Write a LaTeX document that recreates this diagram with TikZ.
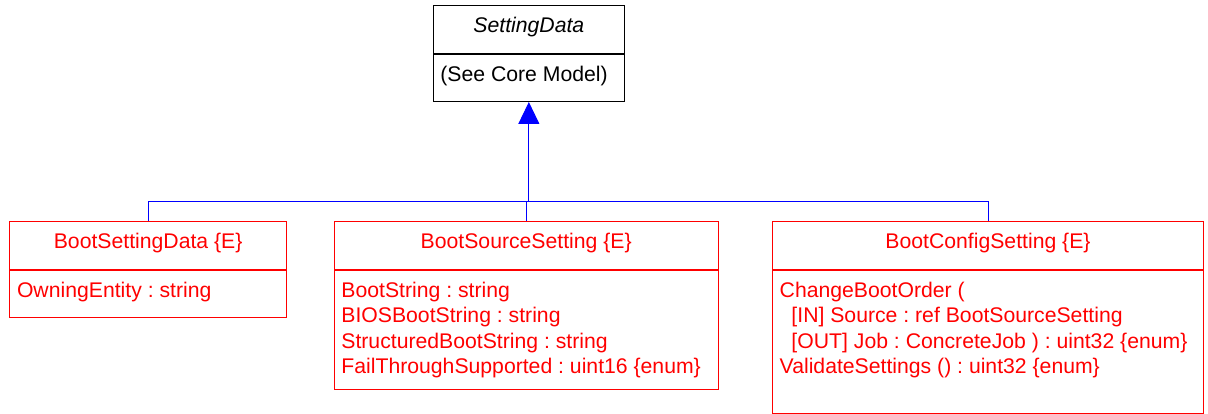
\documentclass[tikz,border=0pt]{standalone}
\usepackage{fontspec}
\setmainfont{Liberation Sans}
\usepackage{tikz}
\usetikzlibrary{positioning}
\usetikzlibrary{arrows.meta,calc}
\frenchspacing
\newcommand{\umlfont}{\fontsize{21.2}{25.3}\selectfont}
\tikzstyle{classbox}=[rectangle,draw=red,line width=1pt,inner sep=0pt,anchor=north west]
\tikzstyle{classname}=[font=\umlfont,inner sep=0pt,anchor=base]
\tikzstyle{attrs}=[font=\umlfont,inner sep=0pt,anchor=base west]
\tikzstyle{edge} = [draw=blue,line width=1pt]
\tikzstyle{genedge} = [edge,-{Triangle[width=21pt,length=22pt]}]

\begin{document}
\begin{tikzpicture}[x=1pt,y=-1pt]
  \useasboundingbox (0,0) rectangle (1208,414);

  \def\tth{48};
  \def\dx{7.5};
  \def\dy{27.7};
  \def\lh{25.3};

  % classes: title compartment, body compartment, name
  \foreach \x/\y/\w/\bh/\name/\col/\cname in {432.7/4.7/191.3/47.3/SD/black/{\textit{SettingData}},
        9.3/220.7/276.7/47/BSD/red/{BootSettingData \{E\}},
        333.7/220.7/384/119.6/BSS/red/{BootSourceSetting \{E\}},
        772/220.7/431/143/BCS/red/{BootConfigSetting \{E\}}}
  {
     \node[classbox, draw=\col, minimum width=\w pt, minimum height=\tth pt] (\name) at (\x,\y) {};
     \node[classbox, draw=\col, minimum width=\w pt, minimum height=\bh pt] (\name b) at (\name.south west) {};
     \node[classname, text=\col] (\name t) at ([yshift=-3.7pt]\name.center) {\cname};
  }

  % attributes and methods
  \foreach \cls/\i/\col/\txt in {SD/0/black/{(See Core Model)},
        BSD/0/red/{OwningEntity : string},
        BSS/0/red/{BootString : string}, BSS/1/red/{BIOSBootString : string},
        BSS/2/red/{StructuredBootString : string}, BSS/3/red/{FailThroughSupported : uint16 \{enum\}},
        BCS/0/red/{ChangeBootOrder (}, BCS/1/red/{~~[IN] Source : ref BootSourceSetting},
        BCS/2/red/{~~[OUT] Job : ConcreteJob ) : uint32 \{enum\}}, BCS/3/red/{ValidateSettings () : uint32 \{enum\}}}
          \node[attrs, text=\col] (\cls a\i) at ([shift={(\dx,\dy+\i*\lh)}]\cls b.north west) {\txt};

  % inheritance
  \coordinate (fork) at (SDb.south |- 0,202);
  \path[genedge] (fork) -- (SDb.south);
  \foreach \cls in {BSD,BSS,BCS}
         \path[edge] (\cls.north) |- (fork);

\end{tikzpicture}
\end{document}
